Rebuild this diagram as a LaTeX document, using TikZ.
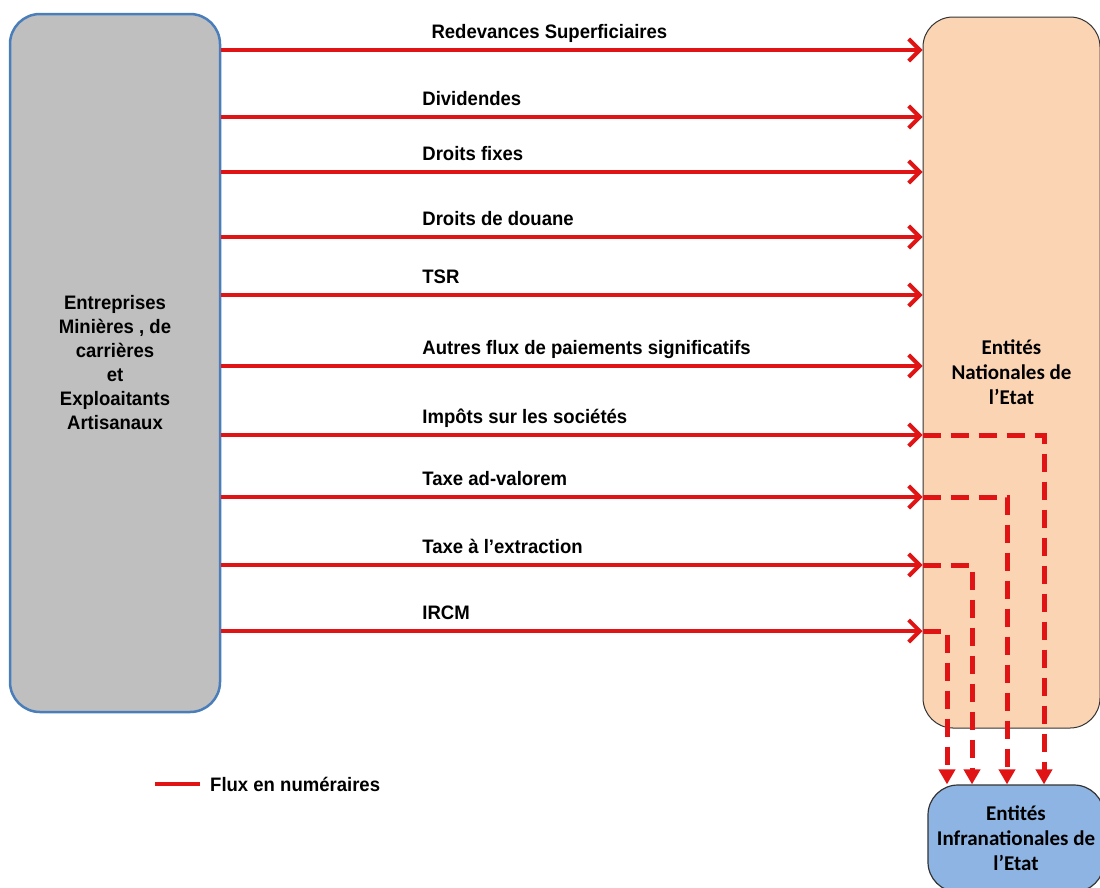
\documentclass[tikz,border=0pt]{standalone}
\usepackage{fontspec}
\setmainfont{Liberation Sans}[FakeStretch=0.95]
\newfontfamily\entitefont{Carlito}
\usetikzlibrary{arrows.meta, calc}
\definecolor{gris}{HTML}{BFBFBF}
\definecolor{bordbleu}{HTML}{4A7EBB}
\definecolor{peche}{HTML}{FBD4B4}
\definecolor{bleuclair}{HTML}{8DB4E2}
\definecolor{rouge}{HTML}{E01414}

\begin{document}
\begin{tikzpicture}[
        x=1pt, y=-1pt,
        font=\fontsize{19.5pt}{24pt}\selectfont\bfseries,
        boite/.style={rounded corners=30pt, align=center, inner sep=0pt},
        entite/.style={boite, draw=black!80, font=\entitefont\fontsize{21pt}{25pt}\selectfont\bfseries},
        flux/.style={draw=rouge, line width=4pt, -{Straight Barb[length=11pt, width=22pt]}},
        tiret/.style={draw=rouge, line width=5pt, dash pattern=on 18pt off 10pt,
            -{Triangle[length=15pt, width=16pt]}},
        etiquette/.style={anchor=base west, yshift=12pt, inner sep=0pt, pos=0.284},
    ]
        \useasboundingbox (0,0) rectangle (1100,887);
        \node[boite, fill=gris, draw=bordbleu, line width=2.5pt, minimum width=210pt, minimum height=698pt]
            (entreprises) at (115,363)
            {Entreprises\\Minières , de\\carrières\\et\\Exploaitants\\Artisanaux};
        \node[entite, fill=peche, line width=1pt, minimum width=177pt, minimum height=711pt]
            (nationales) at (1011.5,372.5) {Entités\\Nationales de\\l’Etat};
        \node[entite, fill=bleuclair, line width=1.2pt, minimum width=176pt, minimum height=107pt]
            (infra) at (1016,838.5) {Entités\\Infranationales de\\l’Etat};
        % hauteurs des flux
        \coordinate (c1) at (0,50);
        \coordinate (c2) at (0,117);
        \coordinate (c3) at (0,172);
        \coordinate (c4) at (0,237);
        \coordinate (c5) at (0,295);
        \coordinate (c6) at (0,366);
        \coordinate (c7) at (0,435);
        \coordinate (c8) at (0,497);
        \coordinate (c9) at (0,565);
        \coordinate (c10) at (0,631);
        \draw[flux] (entreprises.east |- c1) -- node[etiquette, pos=0.297] {Redevances Superficiaires}
            (nationales.west |- c1);
        \draw[flux] (entreprises.east |- c2) -- node[etiquette] {Dividendes} (nationales.west |- c2);
        \draw[flux] (entreprises.east |- c3) -- node[etiquette] {Droits fixes} (nationales.west |- c3);
        \draw[flux] (entreprises.east |- c4) -- node[etiquette] {Droits de douane} (nationales.west |- c4);
        \draw[flux] (entreprises.east |- c5) -- node[etiquette] {TSR} (nationales.west |- c5);
        \draw[flux] (entreprises.east |- c6) -- node[etiquette] {Autres flux de paiements significatifs}
            (nationales.west |- c6);
        \draw[flux] (entreprises.east |- c7) -- node[etiquette] {Impôts  sur les sociétés} (nationales.west |- c7);
        \draw[flux] (entreprises.east |- c8) -- node[etiquette] {Taxe ad-valorem} (nationales.west |- c8);
        \draw[flux] (entreprises.east |- c9) -- node[etiquette] {Taxe à l’extraction} (nationales.west |- c9);
        \draw[flux] (entreprises.east |- c10) -- node[etiquette] {IRCM} (nationales.west |- c10);
        % reversement vers les entites infranationales
        \coordinate (d7) at (1044,0);
        \coordinate (d8) at (1007,0);
        \coordinate (d9) at (972,0);
        \coordinate (d10) at (947,0);
        \draw[tiret] (nationales.west |- c7) -| (infra.north -| d7);
        \draw[tiret] (nationales.west |- c8) -| (infra.north -| d8);
        \draw[tiret] (nationales.west |- c9) -| (infra.north -| d9);
        \draw[tiret] (nationales.west |- c10) -| (infra.north -| d10);
        % legende
        \coordinate (leg) at (155,784);
        \node[anchor=west, inner sep=0pt] (legende) at (210,784) {Flux en numéraires};
        \draw[draw=rouge, line width=4pt] (leg) -- ([xshift=-10pt]legende.west);
    \end{tikzpicture}
\end{document}
